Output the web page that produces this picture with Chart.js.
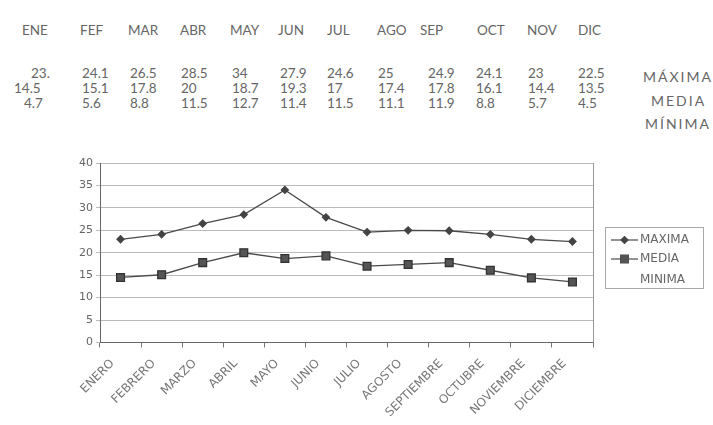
<!DOCTYPE html>
<html>
<head>
<meta charset="utf-8">
<script src="https://cdn.jsdelivr.net/npm/chart.js@4.4.1/dist/chart.umd.min.js"></script>
<style>
  body { margin: 0; background: #fff; }
  #page { position: relative; width: 713px; height: 425px; overflow: hidden; font-family: Lato, "DejaVu Sans", sans-serif; color: #666; }
  .t { position: absolute; font-size: 13.5px; line-height: 14px; white-space: nowrap; }
  .lab { letter-spacing: 2px; font-size: 14px; }
  #wrap { position: absolute; left: 0; top: 150px; width: 713px; height: 275px; }
</style>
</head>
<body>
<div id="page">
  <div id="table"></div>
  <div id="wrap"><canvas id="chart" width="713" height="275"></canvas></div>
</div>
<script>
"use strict";

var monthAbbr = ['ENE', 'FEF', 'MAR', 'ABR', 'MAY', 'JUN', 'JUL', 'AGO', 'SEP', 'OCT', 'NOV', 'DIC'];
var monthNames = ['ENERO', 'FEBRERO', 'MARZO', 'ABRIL', 'MAYO', 'JUNIO', 'JULIO', 'AGOSTO',
    'SEPTIEMBRE', 'OCTUBRE', 'NOVIEMBRE', 'DICIEMBRE'];
var maxima = [23, 24.1, 26.5, 28.5, 34, 27.9, 24.6, 25, 24.9, 24.1, 23, 22.5];
var media = [14.5, 15.1, 17.8, 20, 18.7, 19.3, 17, 17.4, 17.8, 16.1, 14.4, 13.5];
var minima = [4.7, 5.6, 8.8, 11.5, 12.7, 11.4, 11.5, 11.1, 11.9, 8.8, 5.7, 4.5];
// texts as printed in the table (first value has a trailing dot)
var maximaText = ['23.', '24.1', '26.5', '28.5', '34', '27.9', '24.6', '25', '24.9', '24.1', '23', '22.5'];
var rowLabels = ['MÁXIMA', 'MEDIA', 'MÍNIMA'];
var legendLabels = ['MAXIMA', 'MEDIA', 'MINIMA'];

// table layout
var headX = [22, 80, 128, 180, 230, 278, 327, 377, 420, 477, 527, 578];
var colX = [0, 82, 130, 181, 232, 280, 327, 378, 428, 476, 528, 578];
var firstX = [31, 14, 24];
var rowY = [66, 81, 96];
var labelX = [643, 651, 645];
var labelY = [70, 94, 117];

function addText(txt, x, y, cls) {
    var el = document.createElement('div');
    el.className = 't' + (cls ? ' ' + cls : '');
    el.textContent = txt;
    el.style.left = x + 'px';
    el.style.top = y + 'px';
    document.getElementById('table').appendChild(el);
}

monthAbbr.forEach(function(m, i) { addText(m, headX[i], 23); });
[maximaText, media.map(String), minima.map(String)].forEach(function(row, r) {
    row.forEach(function(v, i) {
        addText(v, i === 0 ? firstX[r] : colX[i], rowY[r]);
    });
    addText(rowLabels[r], labelX[r], labelY[r], 'lab');
});

var lineColor = '#4a4a4a';

var frame = {
    id: 'frame',
    afterDatasetsDraw: function(chart) {
        var ctx = chart.ctx, a = chart.chartArea;
        ctx.save();
        ctx.strokeStyle = '#999';
        ctx.lineWidth = 1;
        ctx.beginPath();
        ctx.moveTo(a.right + 0.5, a.top);
        ctx.lineTo(a.right + 0.5, a.bottom);
        ctx.stroke();
        ctx.restore();
    },
    afterDraw: function(chart) {
        var ctx = chart.ctx;
        ctx.save();
        ctx.strokeStyle = '#aaa';
        ctx.lineWidth = 1;
        ctx.strokeRect(605.5, 77.5, 98, 61);
        ctx.font = '12px "DejaVu Sans", sans-serif';
        ctx.fillStyle = '#666';
        ctx.textBaseline = 'middle';
        var ys = [90, 109, 130];
        chart.data.datasets.forEach(function(ds, i) {
            var y = ys[i];
            if (ds.pointStyle !== false) {
                ctx.strokeStyle = ds.borderColor;
                ctx.lineWidth = 1.2;
                ctx.beginPath();
                ctx.moveTo(611, y);
                ctx.lineTo(638, y);
                ctx.stroke();
                Chart.helpers.drawPoint(ctx, {
                    pointStyle: ds.pointStyle,
                    radius: ds.pointRadius,
                    rotation: 0,
                    borderWidth: 1
                }, 624.5, y);
                ctx.fillStyle = ds.pointBackgroundColor;
                ctx.fill();
            }
            ctx.fillStyle = '#666';
            ctx.fillText(ds.label, 640, y);
        });
        ctx.restore();
    }
};

createChart(document.getElementById('chart'), {
    type: 'line',
    data: {
        labels: monthNames,
        datasets: [{
            label: legendLabels[0],
            data: maxima,
            borderColor: lineColor,
            borderWidth: 1.3,
            pointStyle: 'rectRot',
            pointRadius: 3.5,
            pointBackgroundColor: '#444',
            pointBorderColor: '#444',
            tension: 0
        }, {
            label: legendLabels[1],
            data: media,
            borderColor: lineColor,
            borderWidth: 1.3,
            pointStyle: 'rect',
            pointRadius: 5.5,
            pointBackgroundColor: '#555',
            pointBorderColor: '#333',
            tension: 0
        }, {
            // printed in a pale colour that did not survive the scan
            label: legendLabels[2],
            data: minima,
            borderColor: 'rgba(0,0,0,0)',
            pointStyle: false,
            pointRadius: 0,
            showLine: false
        }]
    },
    options: {
        responsive: false,
        animation: false,
        layout: { padding: { top: 13, right: 120, left: 0, bottom: 0 } },
        plugins: { legend: { display: false }, tooltip: { enabled: false } },
        scales: {
            x: {
                offset: true,
                grid: { offset: true, drawOnChartArea: false, color: '#777', tickLength: 5 },
                border: { color: '#666' },
                ticks: {
                    color: '#777',
                    font: { size: 12, family: '"DejaVu Sans", sans-serif' },
                    maxRotation: 45,
                    minRotation: 45,
                    labelOffset: -8,
                    padding: 9
                },
                afterFit: function(scale) { scale.height = 82.5; }
            },
            y: {
                min: 0,
                max: 40,
                ticks: {
                    stepSize: 5,
                    color: '#666',
                    font: { size: 11, family: '"DejaVu Sans", sans-serif' },
                    padding: 3
                },
                grid: { color: '#bbb', tickLength: 4 },
                border: { color: '#666' },
                afterFit: function(scale) { scale.width = 100; }
            }
        }
    },
    plugins: [frame]
});

function createChart(element, options) {
    return new Chart(element, options);
}
</script>
</body>
</html>
